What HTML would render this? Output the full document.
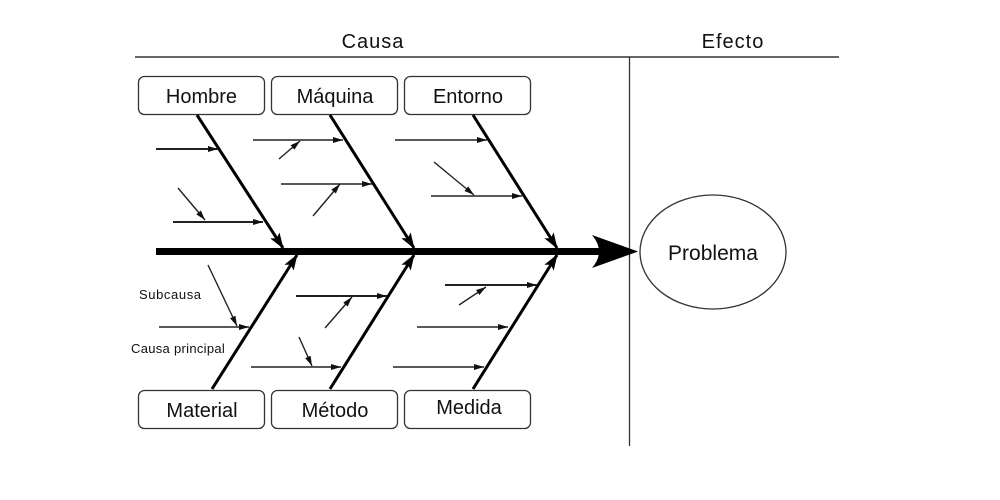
<!DOCTYPE html>
<html><head><meta charset="utf-8"><style>
html,body{margin:0;padding:0;background:#fff;}
svg{display:block;}
text{font-family:"Liberation Sans",sans-serif;fill:#111;}
</style></head><body>
<svg width="1000" height="500" viewBox="0 0 1000 500" xmlns="http://www.w3.org/2000/svg">
<defs>
<marker id="big" markerWidth="16" markerHeight="11" refX="15" refY="5.5" orient="auto" markerUnits="userSpaceOnUse">
<path d="M0,0 L16,5.5 L0,11 L3.5,5.5 Z" fill="#000"/>
</marker>
<marker id="sm" markerWidth="10" markerHeight="6" refX="10" refY="3" orient="auto" markerUnits="userSpaceOnUse">
<path d="M0,0 L10,3 L0,6 Z" fill="#111"/>
</marker>
</defs>

<!-- header lines -->
<line x1="135" y1="57" x2="839" y2="57" stroke="#333" stroke-width="1.5"/>
<line x1="629.5" y1="57" x2="629.5" y2="446" stroke="#333" stroke-width="1.3"/>
<text x="373" y="48" font-size="20" text-anchor="middle" letter-spacing="1">Causa</text>
<text x="733" y="48" font-size="20" text-anchor="middle" letter-spacing="1">Efecto</text>

<!-- boxes -->
<g fill="#fff" stroke="#333" stroke-width="1.3">
<rect x="138.5" y="76.5" width="126" height="38" rx="6"/>
<rect x="271.5" y="76.5" width="126" height="38" rx="6"/>
<rect x="404.5" y="76.5" width="126" height="38" rx="6"/>
<rect x="138.5" y="390.5" width="126" height="38" rx="6"/>
<rect x="271.5" y="390.5" width="126" height="38" rx="6"/>
<rect x="404.5" y="390.5" width="126" height="38" rx="6"/>
</g>
<g font-size="20" text-anchor="middle">
<text x="201.5" y="103">Hombre</text>
<text x="335" y="103">Máquina</text>
<text x="468" y="103">Entorno</text>
<text x="202" y="417">Material</text>
<text x="335" y="417">Método</text>
<text x="469" y="414">Medida</text>
</g>

<!-- main spine -->
<line x1="156" y1="251.5" x2="600" y2="251.5" stroke="#000" stroke-width="7"/>
<path d="M592,235 L638,251.5 L592,268 Q606,251.5 592,235 Z" fill="#000"/>

<!-- ellipse -->
<ellipse cx="713" cy="252" rx="73" ry="57" fill="#fff" stroke="#333" stroke-width="1.3"/>
<text x="713" y="260" font-size="21" text-anchor="middle">Problema</text>

<!-- main bones -->
<g stroke="#000" stroke-width="3" marker-end="url(#big)">
<line x1="197" y1="115" x2="283" y2="248"/>
<line x1="330" y1="115" x2="414" y2="248"/>
<line x1="473" y1="115" x2="557" y2="248"/>
<line x1="212" y1="389" x2="297" y2="255"/>
<line x1="330" y1="389" x2="414" y2="255"/>
<line x1="473" y1="389" x2="557" y2="255"/>
</g>

<!-- sub arrows -->
<g stroke="#222" stroke-width="1.4" marker-end="url(#sm)">
<line x1="156" y1="149" x2="218" y2="149" stroke-width="2"/>
<line x1="173" y1="222" x2="263" y2="222" stroke-width="2"/>
<line x1="178" y1="188" x2="205" y2="220"/>
<line x1="253" y1="140" x2="343" y2="140"/>
<line x1="279" y1="159" x2="300" y2="141"/>
<line x1="281" y1="184" x2="372" y2="184" stroke-width="1.6"/>
<line x1="313" y1="216" x2="340" y2="184"/>
<line x1="395" y1="140" x2="487" y2="140"/>
<line x1="434" y1="162" x2="474" y2="195"/>
<line x1="431" y1="196" x2="522" y2="196"/>

<line x1="208" y1="265" x2="237" y2="326"/>
<line x1="159" y1="327" x2="249" y2="327"/>
<line x1="296" y1="296" x2="387" y2="296" stroke-width="2"/>
<line x1="325" y1="328" x2="352" y2="297"/>
<line x1="251" y1="367" x2="341" y2="367"/>
<line x1="299" y1="337" x2="312" y2="366"/>
<line x1="445" y1="285" x2="537" y2="285" stroke-width="2"/>
<line x1="459" y1="305" x2="486" y2="287"/>
<line x1="417" y1="327" x2="508" y2="327"/>
<line x1="393" y1="367" x2="484" y2="367"/>
</g>

<text x="139" y="299" font-size="13" letter-spacing="0.6">Subcausa</text>
<text x="131" y="353" font-size="13" letter-spacing="0.3">Causa principal</text>
</svg>
</body></html>
